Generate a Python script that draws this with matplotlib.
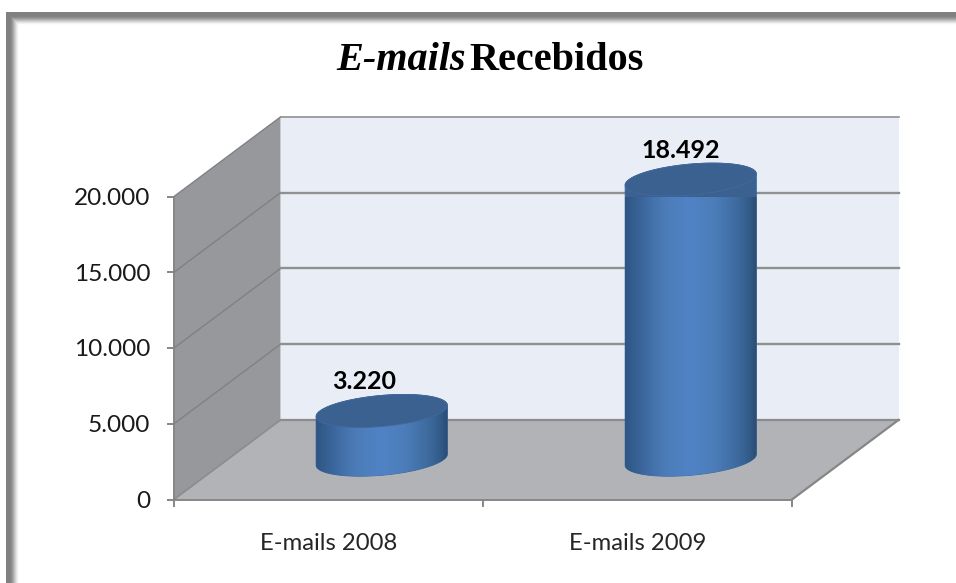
import numpy as np
import matplotlib
matplotlib.use("Agg")
import matplotlib.pyplot as plt
from matplotlib.colors import LinearSegmentedColormap
from matplotlib.patches import Polygon
from matplotlib.ticker import FuncFormatter

# ---- data ----
categories = ["E-mails 2008", "E-mails 2009"]
emails = [3220, 18492]
value_ticks = [0, 5000, 10000, 15000, 20000]
title_italic = "E-mails"
title_bold = "Recebidos"

# ---- style ----
W, H = 956, 583
GREY = "#868686"
DX, DY = 0.3447, 5250      # depth of the 3-D box in axis units
RX, RZ = 0.2, 0.2075       # cylinder radius: along x (axis units), along depth (fraction)
PX_X, PX_Y = 309.0, 303.0 / 20000   # pixels per axis unit
label_dx = [-18, -10]

fig = plt.figure(figsize=(W / 100, H / 100), dpi=100, facecolor="white")

# picture frame with soft inner shadow
bg = fig.add_axes([0, 0, 1, 1], zorder=0)
bg.axis("off")
yy, xx = np.mgrid[0:H, 0:W].astype(float)
def band(d):
    s = np.clip((13.0 - d) / 10.0, 0, 1)
    return s * s * (3 - 2 * s)
shade = np.maximum(band(xx - 6.0), band(yy - 12.0))
shade[(xx < 6) | (yy < 12)] = 0
frame = 1 - shade * 0.50
bg.imshow(frame, cmap="gray", vmin=0, vmax=1, aspect="auto", interpolation="bilinear")

ax = fig.add_axes([174 / W, 1 - 499.5 / H, (792 - 174) / W, 303 / H], zorder=1)
ax.patch.set_alpha(0)
x0, x1 = -0.5, 1.5

def poly(pts, **kw):
    p = Polygon(pts, closed=True, clip_on=False, **kw)
    ax.add_patch(p)
    return p

# walls & floor
poly([(x0 + DX, DY), (x1 + DX, DY), (x1 + DX, 20000 + DY), (x0 + DX, 20000 + DY)],
     facecolor="#e9edf6", edgecolor="none", zorder=1)
poly([(x0, 0), (x0 + DX, DY), (x0 + DX, 20000 + DY), (x0, 20000)],
     facecolor="#96989b", edgecolor="none", zorder=1)
poly([(x0, 0), (x1, 0), (x1 + DX, DY), (x0 + DX, DY)],
     facecolor="#b1b3b6", edgecolor="none", zorder=1)

# gridlines on walls
for v in value_ticks:
    if v == 0:
        ax.plot([x0, x0 + DX], [0, DY], color="#8c8c8c", lw=1.2, clip_on=False, zorder=2)
        ax.plot([x0 + DX, x1 + DX], [DY, DY], color="#8c8c8c", lw=1.6, clip_on=False, zorder=2)
        ax.plot([x1, x1 + DX], [0, DY], color=GREY, lw=1.6, clip_on=False, zorder=2)
        continue
    ax.plot([x0, x0 + DX], [v, v + DY], color="#7f8184", lw=1.0, clip_on=False, zorder=2)
    top = v == value_ticks[-1]
    ax.plot([x0 + DX, x1 + DX], [v + DY, v + DY], color="#909090", lw=1.2 if top else 1.7,
            clip_on=False, zorder=2)

# cylinders
body_cmap = LinearSegmentedColormap.from_list("cyl", [
    (0.00, "#2f5582"), (0.12, "#3a659b"), (0.30, "#4c7cb8"), (0.50, "#5083c6"),
    (0.68, "#4c7db9"), (0.85, "#3e6b9f"), (0.95, "#325a88"), (1.00, "#2b4a70")])
t0 = np.arctan2(RZ * DX * PX_X, RX * PX_X)

def ring(i, base, t):
    cx = i + 0.5 * DX + RX * np.cos(t) + RZ * DX * np.sin(t)
    cy = base + 0.5 * DY + RZ * DY * np.sin(t)
    return np.column_stack([cx, cy])

for i, (val, ddx) in enumerate(zip(emails, label_dx)):
    upper = ring(i, val, np.linspace(t0, t0 + np.pi, 80))
    lower = ring(i, 0, np.linspace(t0 + np.pi, t0 + 2 * np.pi, 80))
    outline = np.vstack([upper, lower])
    clip = poly(outline, facecolor="#3b6191", edgecolor="#3d6ba6", lw=0.6, zorder=3)
    xmin, xmax = outline[:, 0].min(), outline[:, 0].max()
    ymin, ymax = outline[:, 1].min(), outline[:, 1].max()
    im = ax.imshow(np.linspace(0, 1, 256)[None, :], cmap=body_cmap, aspect="auto",
                   extent=(xmin, xmax, ymin, ymax), zorder=3.1, interpolation="bilinear")
    im.set_clip_path(clip)
    cap = ring(i, val, np.linspace(0, 2 * np.pi, 160))
    poly(cap, facecolor="#3b6191", edgecolor="#44699b", lw=0.6, zorder=3.2)
    ax.annotate(f"{val:,}".replace(",", "."), xy=(i + 0.5 * DX, val + 0.5 * DY),
                xytext=(ddx * 0.72, 29 * 0.72), textcoords="offset points",
                ha="center", va="center", fontsize=18, fontweight="bold",
                family="Lato", color="#000000", zorder=5, annotation_clip=False)

# axes
ax.set_xlim(x0, x1)
ax.set_ylim(0, 20000)
ax.set_yticks(value_ticks)
ax.yaxis.set_major_formatter(FuncFormatter(lambda v, _: f"{int(v):,}".replace(",", ".")))
ax.set_xticks([x0, 0.5, x1])
ax.set_xticklabels([])
ax.set_xticks([0, 1], minor=True)
ax.set_xticklabels(categories, minor=True)
ax.tick_params(axis="x", which="major", length=5, width=1.4, color=GREY)
ax.tick_params(axis="x", which="minor", length=0, pad=24, labelsize=17.2, labelcolor="#262626")
ax.tick_params(axis="y", length=5, width=1.4, color=GREY, pad=12, labelsize=17.6, labelcolor="#1a1a1a")
for lab in ax.get_xticklabels(minor=True) + ax.get_yticklabels():
    lab.set_family("Lato")
for s in ("top", "right"):
    ax.spines[s].set_visible(False)
for s in ("left", "bottom"):
    ax.spines[s].set_color(GREY)
    ax.spines[s].set_linewidth(1.4)
    ax.spines[s].set_zorder(2.5)

# title
fig.text(336 / W, 1 - 70 / H, title_italic, ha="left", va="baseline", fontsize=29,
         family="Liberation Serif", style="italic", fontweight="bold", color="black")
fig.text(469 / W, 1 - 70 / H, title_bold, ha="left", va="baseline", fontsize=29,
         family="Liberation Serif", fontweight="bold", color="black")

fig.savefig("out.png", dpi=100, facecolor="white")
